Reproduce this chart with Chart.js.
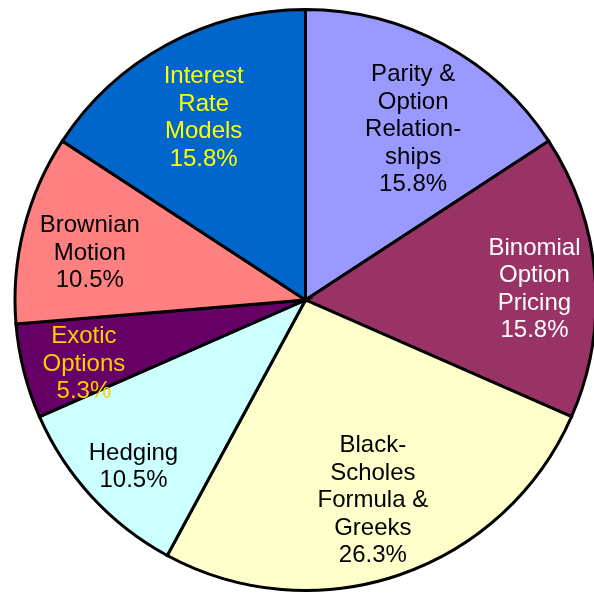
<!DOCTYPE html>
<html>
<head>
<meta charset="utf-8">
<script src="https://cdn.jsdelivr.net/npm/chart.js@4"></script>
<style>
  html, body { margin: 0; padding: 0; background: #fff; overflow: hidden; }
  #wrap { position: relative; width: 600px; height: 596px; }
</style>
</head>
<body>
<div id="wrap"><canvas id="pie"></canvas></div>
<script>
// Slices, clockwise from 12 o'clock
const categories = [
  ['Parity &', 'Option', 'Relation-', 'ships'],
  ['Binomial', 'Option', 'Pricing'],
  ['Black-', 'Scholes', 'Formula &', 'Greeks'],
  ['Hedging'],
  ['Exotic', 'Options'],
  ['Brownian', 'Motion'],
  ['Interest', 'Rate', 'Models']
];
const counts = [3, 3, 5, 2, 1, 2, 3];
const sliceColors = ['#9999FF', '#993366', '#FFFFCC', '#CCFFFF', '#660066', '#FF8080', '#0066CC'];
const textColors = ['#000000', '#FFFFFF', '#000000', '#000000', '#FFCC00', '#000000', '#FFFF00'];
// label placement: fraction of radius and angle nudge (deg) from the slice middle
const labelRadius = [0.693, 0.789, 0.729, 0.825, 0.794, 0.760, 0.718];
const labelTurn = [3.9, 2.1, 0.4, -1.5, -1.9, -1.9, -0.8];

const total = counts.reduce((a, b) => a + b, 0);

const sliceLabels = {
  id: 'sliceLabels',
  afterDatasetsDraw(chart) {
    const { ctx } = chart;
    const meta = chart.getDatasetMeta(0);
    ctx.save();
    ctx.font = '24px "Liberation Sans", Arial, sans-serif';
    ctx.textAlign = 'center';
    ctx.textBaseline = 'middle';
    const lineH = 27.5;
    meta.data.forEach((arc, i) => {
      const mid = (arc.startAngle + arc.endAngle) / 2 + labelTurn[i] * Math.PI / 180;
      const r = arc.outerRadius * labelRadius[i];
      const cx = arc.x + Math.cos(mid) * r;
      const cy = arc.y + Math.sin(mid) * r;
      const lines = categories[i].concat([(counts[i] / total * 100).toFixed(1) + '%']);
      const top = cy - (lines.length - 1) * lineH / 2;
      ctx.fillStyle = textColors[i];
      lines.forEach((t, k) => ctx.fillText(t, cx, top + k * lineH));
    });
    ctx.restore();
  }
};

new Chart(document.getElementById('pie'), {
  type: 'pie',
  data: {
    labels: categories.map(l => l.join(' ')),
    datasets: [{
      data: counts,
      backgroundColor: sliceColors,
      borderColor: '#000',
      borderWidth: 3,
      borderJoinStyle: 'miter'
    }]
  },
  options: {
    responsive: true,
    maintainAspectRatio: false,
    animation: false,
    layout: { padding: { left: 11, top: 8, bottom: 4, right: 0 } },
    plugins: { legend: { display: false }, tooltip: { enabled: false } }
  },
  plugins: [sliceLabels]
});
</script>
</body>
</html>
